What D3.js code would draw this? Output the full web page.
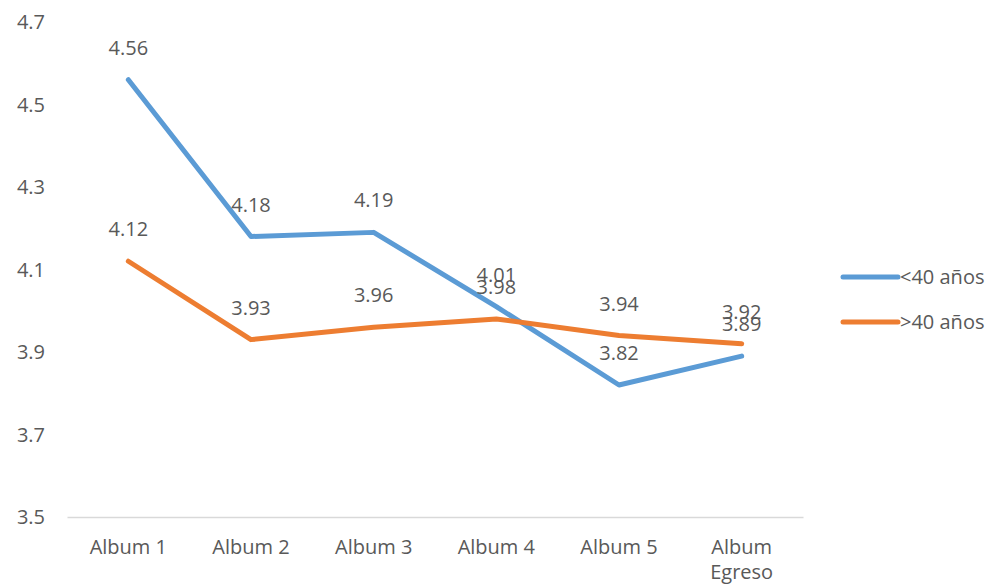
<!DOCTYPE html>
<html>
<head>
<meta charset="utf-8">
<script src="https://cdn.jsdelivr.net/npm/d3@7"></script>
<style>
  body { margin: 0; background: #fff; }
  svg text { font-family: "Open Sans", "Noto Sans", sans-serif; fill: #595959; }
</style>
</head>
<body>
<svg id="chart" width="992" height="586"></svg>
<script>
// Categories and series
const categories = ["Album 1", "Album 2", "Album 3", "Album 4", "Album 5", "Album Egreso"];
const under40 = [4.56, 4.18, 4.19, 4.01, 3.82, 3.89];
const over40 = [4.12, 3.93, 3.96, 3.98, 3.94, 3.92];
const seriesNames = ["<40 años", ">40 años"];
const yTicks = [3.5, 3.7, 3.9, 4.1, 4.3, 4.5, 4.7];

const colors = ["#5B9BD5", "#ED7D31"];
const series = [under40, over40];
const fontSize = "20px";

const svg = d3.select("#chart");
const plot = { left: 67, right: 803, top: 22, bottom: 517 };

const x = d3.scaleBand().domain(categories).range([plot.left, plot.right]);
const y = d3.scaleLinear().domain([3.5, 4.7]).range([plot.bottom, plot.top]);
const cx = c => x(c) + x.bandwidth() / 2;

// Y tick labels (no axis line, no gridlines)
svg.append("g").selectAll("text").data(yTicks).join("text")
  .attr("x", 45).attr("y", d => y(d))
  .attr("dy", "0.35em")
  .attr("text-anchor", "end")
  .style("font-size", fontSize)
  .text(d => d3.format(".1f")(d));

// Category axis
const xAxis = svg.append("g").attr("transform", `translate(0,${plot.bottom})`)
  .call(d3.axisBottom(x).tickSize(0).tickPadding(0));
xAxis.select(".domain").attr("stroke", "#d9d9d9").attr("stroke-width", 1.5);
xAxis.selectAll(".tick text").remove();
xAxis.selectAll(".tick").each(function (d) {
  const words = d === "Album Egreso" ? ["Album", "Egreso"] : [d];
  const t = d3.select(this).append("text")
    .attr("text-anchor", "middle")
    .style("font-size", fontSize)
    .attr("fill", "#595959");
  words.forEach((w, i) => {
    t.append("tspan").attr("x", 0).attr("y", 37 + i * 25).text(w);
  });
});

// Lines
const line = d3.line().x((d, i) => cx(categories[i])).y(d => y(d));
series.forEach((s, k) => {
  svg.append("path")
    .datum(s)
    .attr("d", line)
    .attr("fill", "none")
    .attr("stroke", colors[k])
    .attr("stroke-width", 5)
    .attr("stroke-linejoin", "round")
    .attr("stroke-linecap", "round");
});

// Data labels
series.forEach((s, k) => {
  svg.append("g").selectAll("text").data(s).join("text")
    .attr("x", (d, i) => cx(categories[i]))
    .attr("y", d => y(d) - 25)
    .attr("text-anchor", "middle")
    .style("font-size", fontSize)
    .text(d => d3.format(".2f")(d));
});

// Legend
const legend = svg.append("g");
seriesNames.forEach((name, k) => {
  const ly = 277 + k * 45;
  legend.append("line")
    .attr("x1", 843).attr("x2", 898).attr("y1", ly).attr("y2", ly)
    .attr("stroke", colors[k]).attr("stroke-width", 5).attr("stroke-linecap", "round");
  legend.append("text")
    .attr("x", 900).attr("y", ly).attr("dy", "0.35em")
    .style("font-size", fontSize)
    .text(name);
});
</script>
</body>
</html>
